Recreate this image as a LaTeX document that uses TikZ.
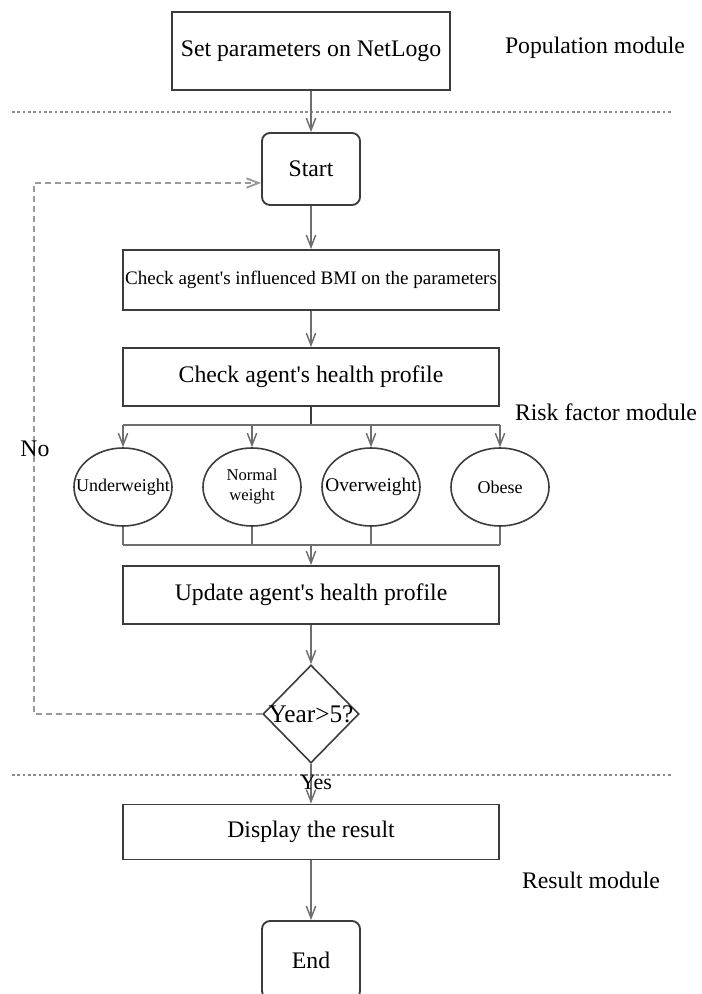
\documentclass[tikz,border=0pt]{standalone}
\usepackage{fontspec}
\setmainfont{Liberation Serif}
\usetikzlibrary{arrows.meta,shapes.geometric}
\definecolor{boxline}{HTML}{3C3C3C}
\definecolor{flowline}{HTML}{6E6E6E}
\definecolor{sepline}{HTML}{8C8C8C}
\definecolor{loopline}{HTML}{999999}
\newcommand{\apos}{\textquotesingle}
\tikzset{
  bigtext/.style={font=\fontsize{17.8}{20}\selectfont},
  procbox/.style={draw=boxline, line width=1.4pt, inner sep=0pt, bigtext},
  termbox/.style={procbox, rounded corners=6pt, minimum width=73.5pt, minimum height=54pt},
  widebox/.style={procbox, minimum width=282pt},
  riskcase/.style={draw=boxline, line width=1.2pt, ellipse, inner sep=0pt,
    minimum width=73.5pt, minimum height=58.5pt},
  casetext/.style={font=\fontsize{13.5}{14}\selectfont, align=center, inner sep=0pt},
  flow/.style={draw=flowline, line width=1.1pt, -{Straight Barb[length=9pt,width=7pt]}},
  flowplain/.style={draw=flowline, line width=1.1pt},
  separator/.style={draw=sepline, line width=1pt, dash pattern=on 2pt off 2pt},
  loopback/.style={draw=loopline, line width=1.4pt, dash pattern=on 5pt off 2.5pt,
    -{Straight Barb[length=9pt,width=7pt]}},
  modlabel/.style={bigtext, inner sep=0pt}
}
\begin{document}
\begin{tikzpicture}[x=0.75pt,y=-0.75pt]
\useasboundingbox (0,0) rectangle (701,994);
\clip (0,0) rectangle (701,994);

% module separators
\draw[separator] (12,112) -- (672,112);
\draw[separator] (12,775) -- (672,775);

% module names
\node[modlabel] (popmod) at (595,48) {Population module};
\node[modlabel] (riskmod) at (606,412) {Risk factor module};
\node[modlabel] (resmod) at (591,880) {Result module};

% main flow
\node[procbox, minimum width=208.5pt, minimum height=58.5pt] (setp) at (311,51) {Set parameters on NetLogo};
\node[termbox] (start) at (311,169) {Start};
\node[widebox, minimum height=45pt, font=\fontsize{14.3}{16}\selectfont] (bmi) at (311,280) {Check agent\apos s influenced BMI on the parameters};
\node[widebox, minimum height=43.5pt] (health) at (311,377) {Check agent\apos s health profile};

% BMI categories
\node[riskcase, label={[casetext]center:Underweight}] (under) at (123,487) {};
\node[riskcase, label={[casetext, font=\fontsize{12.5}{15}\selectfont]center:Normal\\weight}] (normal) at (252,487) {};
\node[riskcase, label={[casetext, font=\fontsize{14.5}{15}\selectfont]center:Overweight}] (over) at (371,487) {};
\node[riskcase, label={[casetext]center:Obese}] (obese) at (500,487) {};

\node[widebox, minimum height=43.5pt] (update) at (311,595) {Update agent\apos s health profile};
\node[diamond, draw=boxline, line width=1.2pt, inner sep=0pt, minimum width=72pt, minimum height=73.5pt, aspect=0.98] (year) at (311,714) {};
\node[bigtext, inner sep=0pt, font=\fontsize{19}{20}\selectfont] (yeartext) at (year.center) {Year>5?};
\node[widebox, minimum height=41.25pt] (display) at (311,832) {Display the result};
\node[procbox, rounded corners=6pt, minimum width=73.5pt, minimum height=58.5pt] (finish) at (311,960) {End};

% connectors
\draw[flow] (setp) -- (start);
\draw[flow] (start) -- (bmi);
\draw[flow] (bmi) -- (health);

\coordinate (fork) at (311,425);
\coordinate (merge) at (311,545);
\draw[draw=boxline, line width=1.4pt] (health.south) -- (fork);
\draw[flowplain] (under.north |- fork) -- (obese.north |- fork);
\foreach \c in {under,normal,over,obese}{
  \draw[flow] (\c.north |- fork) -- (\c.north);
  \draw[flowplain] (\c.south) -- (\c.south |- merge);
}
\draw[flowplain] (under.south |- merge) -- (obese.south |- merge);
\draw[flow] (merge) -- (update);

\draw[flow] (update) -- (year);
\draw[flow] (year.south) -- (display.north);
\node[inner sep=1pt, font=\fontsize{16.5}{18}\selectfont] (yes) at (316,782) {Yes};

\coordinate (loopcorner) at (34,183);
\draw[loopback] (year.west) -- (34,714) -- (loopcorner) -- (start.west |- loopcorner);
\node[modlabel] (no) at (35,449) {No};

\draw[flow] (display) -- (finish);
\end{tikzpicture}
\end{document}
